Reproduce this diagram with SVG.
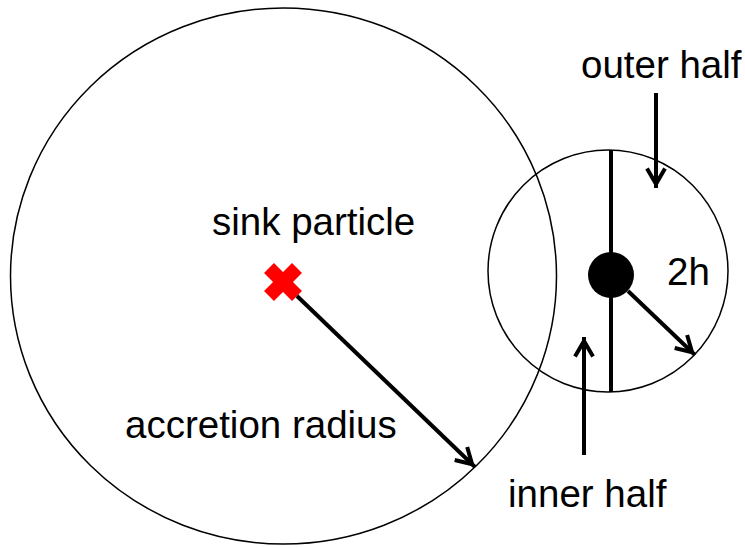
<svg xmlns="http://www.w3.org/2000/svg" width="745" height="548" viewBox="0 0 745 548">
<style>
.ring{fill:none;stroke:#000;stroke-width:1.5}
.arrow{fill:none;stroke:#000;stroke-width:4;marker-end:url(#chev)}
.lbl{font-family:"Liberation Sans",Arial,sans-serif;font-size:38.5px;fill:#000}
</style>
<defs>
<marker id="chev" markerUnits="userSpaceOnUse" viewBox="0 0 24 20" markerWidth="24" markerHeight="20" refX="21" refY="10" orient="auto" overflow="visible">
<path d="M1.5,1 L17,10 L1.5,19" fill="none" stroke="#000" stroke-width="4" stroke-linejoin="miter"/>
</marker>
</defs>
<rect width="745" height="548" fill="#fff"/>
<g id="accretion-sphere">
<ellipse class="ring" cx="283.5" cy="276" rx="273" ry="268"/>
</g>
<g id="gas-particle-sphere">
<ellipse class="ring" cx="608" cy="271" rx="120" ry="121"/>
<line x1="611" y1="150" x2="611" y2="392" stroke="#000" stroke-width="4"/>
<circle cx="611" cy="275" r="23" fill="#000"/>
</g>
<g id="sink-particle">
<line x1="269" y1="268" x2="297" y2="296" stroke="#f00" stroke-width="14"/>
<line x1="297" y1="268" x2="269" y2="296" stroke="#f00" stroke-width="14"/>
</g>
<g id="connectors">
<line class="arrow" x1="297" y1="296" x2="475" y2="467"/>
<line class="arrow" x1="628" y1="291" x2="695" y2="355"/>
<line class="arrow" x1="656" y1="93" x2="656" y2="188"/>
<line class="arrow" x1="584" y1="455" x2="584" y2="337"/>
</g>
<g id="labels">
<text class="lbl" x="212" y="235">sink particle</text>
<text class="lbl" x="125" y="438">accretion radius</text>
<text class="lbl" x="508" y="507">inner half</text>
<text class="lbl" x="581" y="78">outer half</text>
<text class="lbl" x="667" y="285">2h</text>
</g>
</svg>
